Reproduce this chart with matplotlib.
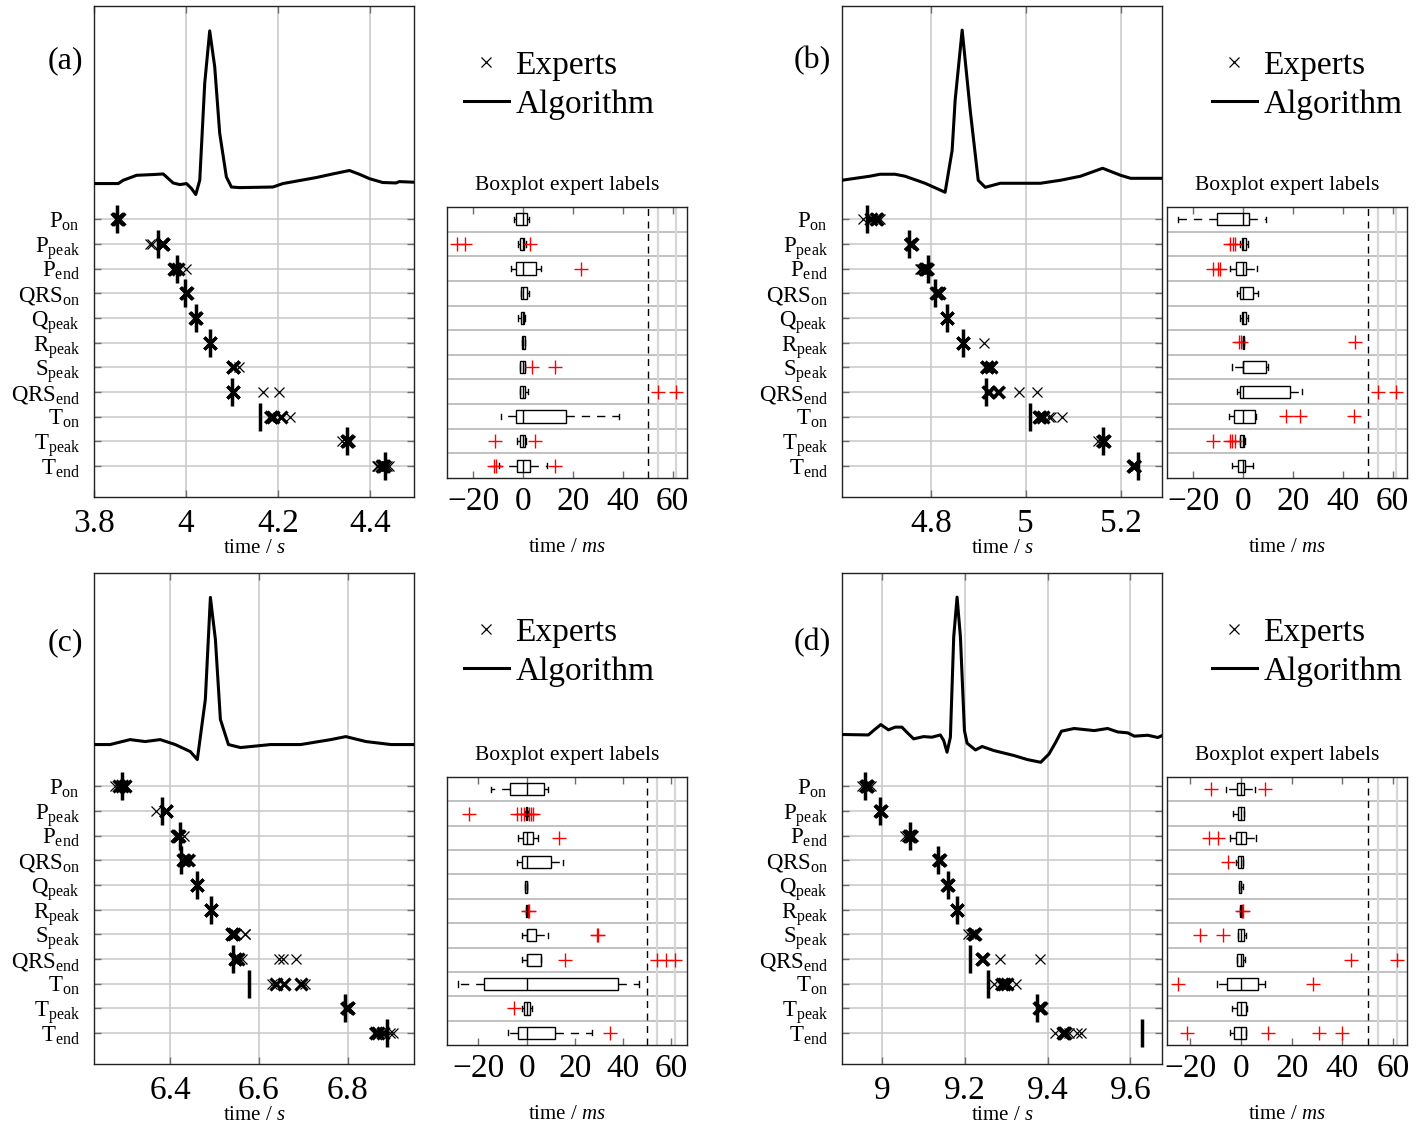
import numpy as np
import matplotlib
matplotlib.use("Agg")
import matplotlib.pyplot as plt
from matplotlib.lines import Line2D

plt.rcParams['font.family'] = ['Liberation Serif', 'DejaVu Serif']
plt.rcParams['mathtext.fontset'] = 'custom'
plt.rcParams['mathtext.rm'] = 'Liberation Serif'
plt.rcParams['mathtext.it'] = 'Liberation Serif:italic'

# ---------------------------------------------------------------- data
wave_labels = [r'P$_{\mathrm{on}}$', r'P$_{\mathrm{peak}}$', r'P$_{\mathrm{end}}$',
               r'QRS$_{\mathrm{on}}$', r'Q$_{\mathrm{peak}}$', r'R$_{\mathrm{peak}}$',
               r'S$_{\mathrm{peak}}$', r'QRS$_{\mathrm{end}}$', r'T$_{\mathrm{on}}$',
               r'T$_{\mathrm{peak}}$', r'T$_{\mathrm{end}}$']
panel_names = ['(a)', '(b)', '(c)', '(d)']
nan = np.nan

# ECG traces (time in s, amplitude normalised to the R peak)
ecg_time_a = [3.800, 3.8527, 3.8635, 3.8925, 3.9285, 3.9502, 3.9575, 3.9718, 3.9864, 4.0009,
              4.0117, 4.0210, 4.0297, 4.0405, 4.0513, 4.0622, 4.0730, 4.0875, 4.0984, 4.1163,
              4.1885, 4.2102, 4.2826, 4.3185, 4.3547, 4.3764, 4.3980, 4.4269, 4.4559, 4.4631, 4.4950]
ecg_amp_a = [0.0, 0.0, 0.022, 0.055, 0.060, 0.064, 0.044, 0.004, -0.007, 0.0,
             -0.033, -0.073, 0.022, 0.669, 1.017, 0.777, 0.335, 0.044, -0.023, -0.027,
             -0.023, 0.0, 0.040, 0.064, 0.087, 0.062, 0.033, 0.007, 0.004, 0.013, 0.009]

ecg_time_b = [4.6126, 4.6718, 4.6929, 4.7246, 4.7457, 4.7879, 4.8302, 4.8450, 4.8513, 4.8661,
              4.8830, 4.8999, 4.9147, 4.9464, 5.0309, 5.0732, 5.1154, 5.1619, 5.1999, 5.2210, 5.2870]
ecg_amp_b = [0.022, 0.049, 0.062, 0.062, 0.049, 0.002, -0.058, 0.222, 0.555, 1.022,
             0.489, 0.022, -0.025, 0.002, 0.002, 0.022, 0.049, 0.102, 0.055, 0.035, 0.035]

ecg_time_c = [6.2279, 6.2642, 6.3094, 6.3434, 6.3774, 6.4113, 6.4453, 6.4611, 6.4792, 6.4906,
              6.5019, 6.5132, 6.5313, 6.5585, 6.6264, 6.6943, 6.7622, 6.7962, 6.8415, 6.8981, 6.9502]
ecg_amp_c = [0.040, 0.040, 0.073, 0.060, 0.073, 0.040, -0.007, -0.060, 0.340, 1.020,
             0.740, 0.207, 0.040, 0.020, 0.040, 0.040, 0.073, 0.093, 0.060, 0.040, 0.040]

ecg_time_d = [8.9040, 8.9677, 8.9798, 8.9976, 9.0161, 9.0323, 9.0484, 9.0605, 9.0767, 9.1009,
              9.1211, 9.1412, 9.1493, 9.1574, 9.1655, 9.1735, 9.1816, 9.1897, 9.1994, 9.2058,
              9.2179, 9.2260, 9.2421, 9.2704, 9.3188, 9.3511, 9.3834, 9.4036, 9.4197, 9.4334,
              9.4641, 9.5125, 9.5448, 9.5690, 9.5932, 9.6094, 9.6416, 9.6659, 9.6764]
ecg_amp_d = [0.107, 0.104, 0.133, 0.173, 0.138, 0.156, 0.156, 0.122, 0.078, 0.093,
             0.089, 0.104, 0.067, -0.011, 0.089, 0.756, 1.022, 0.756, 0.133, 0.049,
             0.022, 0.004, 0.027, 0.0, -0.033, -0.060, -0.078, -0.022, 0.056, 0.129,
             0.147, 0.133, 0.147, 0.124, 0.118, 0.096, 0.102, 0.087, 0.100]

# median expert label (s) and algorithm output (s) per wave
median_a = [3.852, 3.949, 3.976, 4.000, 4.021, 4.0514, 4.102, 4.102, 4.188, 4.350, 4.427]
algo_a = [3.849, 3.938, 3.981, 3.997, 4.021, 4.0514, nan, 4.0997, 4.160, 4.350, 4.432]
median_b = [4.684, 4.759, 4.790, 4.8127, 4.8338, 4.8676, 4.918, 4.922, 5.031, 5.1648, 5.228]
algo_b = [4.6662, 4.7549, 4.7937, 4.8092, 4.8338, 4.8676, nan, 4.9162, 5.0085, 5.1627, 5.2373]
median_c = [6.2906, 6.391, 6.4166, 6.430, 6.4604, 6.4921, 6.5396, 6.546, 6.657, 6.800, 6.868]
algo_c = [6.2921, 6.3811, 6.4211, 6.4242, 6.4604, 6.4921, nan, 6.5419, 6.5774, 6.794, 6.8883]
median_d = [8.9637, 8.9976, 9.0686, 9.1388, 9.159, 9.1816, 9.2236, 9.2421, 9.2946, 9.3818, 9.440]
algo_d = [8.9596, 8.996, 9.067, 9.1356, 9.159, 9.1816, nan, 9.2123, 9.2558, 9.3753, 9.6279]

# expert label spread relative to the median (ms)
q1_a = [-2.8, -1.3, -2.8, -0.7, -0.9, -0.4, -1.1, -1.1, -2.8, -1.3, -2.3]
q3_a = [1.6, 0.4, 5.4, 1.6, 0.3, 0.8, 0.8, 0.9, 17.4, 0.7, 2.9]
lo_a = [-3.7, -2.2, -4.7, -0.9, -1.9, -0.4, -1.1, -1.1, -8.7, -2.4, -9.6]
hi_a = [2.4, 1.0, 7.1, 2.4, 0.7, 0.8, 0.8, 2.0, 38.6, 1.0, 9.8]
out_a = [[], [-26.5, -23.4, 2.7], [23.4], [], [], [], [3.7, 12.7], [65, 100], [],
         [-11.4, 5.0], [-11.6, -10.7, 12.7]]

q1_b = [-10.4, -0.4, -2.8, -1.1, -0.4, -0.2, 0.0, -1.3, -3.6, -1.3, -2.0]
q3_b = [2.4, 1.1, 1.3, 4.0, 1.1, 0.4, 9.1, 19.0, 4.7, 0.2, 0.9]
lo_b = [-26.1, -1.3, -5.1, -2.4, -1.3, -0.2, -4.3, -2.3, -5.6, -1.3, -4.3]
hi_b = [9.1, 2.0, 5.8, 6.0, 2.0, 0.4, 10.0, 23.8, 5.4, 0.7, 4.0]
out_b = [[], [-5.1, -4.0, -3.3], [-12.0, -10.0, -9.4], [], [], [-1.5, -0.8, 44.8], [],
         [63, 102], [17.1, 22.8, 44.6], [-12.0, -5.4, -4.3, -3.3], []]

q1_c = [-6.9, -0.3, -1.4, -2.1, -0.6, -0.2, 0.0, 0.0, -17.6, -1.1, -3.5]
q3_c = [7.2, 0.3, 2.8, 10.1, 0.2, 0.2, 3.9, 5.8, 37.7, 1.4, 11.8]
lo_c = [-14.8, -0.5, -3.5, -3.9, -0.6, -0.2, -2.1, -2.1, -28.4, -2.1, -7.6]
hi_c = [8.7, 0.5, 4.6, 15.2, 0.2, 0.2, 9.0, 5.8, 46.8, 2.1, 27.0]
out_c = [[], [-24.0, -3.9, -2.5, -1.2, 0.8, 1.9, 2.5], [13.6], [], [], [0.7, 1.2],
         [29.1, 29.8], [15.9, 100, 108, 138], [], [-5.3], [34.6]]

q1_d = [-1.7, -1.1, -2.0, -1.3, -0.9, -0.2, -1.1, -1.4, -5.3, -1.7, -2.8]
q3_d = [1.2, 1.2, 2.0, 0.9, 0.2, 0.2, 1.2, 0.9, 6.6, 2.0, 2.0]
lo_d = [-5.7, -3.3, -4.1, -2.0, -0.9, -0.2, -1.1, -1.4, -9.6, -3.7, -4.3]
hi_d = [5.5, 1.2, 5.9, 0.9, 0.7, 0.2, 2.0, 1.6, 9.5, 2.5, 2.0]
out_d = [[-11.6, 9.5], [], [-12.5, -8.9], [-5.0], [], [0.5, 1.0], [-16.2, -7.2],
         [43.4, 139], [-24.7, 28.3], [], [-21.2, 10.8, 30.9, 39.7]]

# time axis ticks per panel
xticks_a = [3.8, 4.0, 4.2, 4.4]
xticklabels_a = ['3.8', '4', '4.2', '4.4']
xticks_b = [4.8, 5.0, 5.2]
xticklabels_b = ['4.8', '5', '5.2']
xticks_c = [6.4, 6.6, 6.8]
xticklabels_c = ['6.4', '6.6', '6.8']
xticks_d = [9.0, 9.2, 9.4, 9.6]
xticklabels_d = ['9', '9.2', '9.4', '9.6']
box_ticks = [-20, 0, 20, 40, 60]
box_ticklabels = ['\u221220', '0', '20', '40', '60']

# ---------------------------------------------------------------- layout
W, H = 1416, 1131
fig = plt.figure(figsize=(W / 100, H / 100), dpi=100)


def rect(x0, y0, x1, y1):
    return [x0 / W, 1 - y1 / H, (x1 - x0) / W, (y1 - y0) / H]


panels = [
    dict(name=panel_names[0], et=ecg_time_a, ea=ecg_amp_a, med=median_a, alg=algo_a,
         q1=q1_a, q3=q3_a, lo=lo_a, hi=hi_a, out=out_a, xt=xticks_a, xl=xticklabels_a,
         xlim=(3.800, 4.495), blim=(-30.5, 65.8),
         left=rect(94, 6, 414, 497), box=rect(447, 207, 687, 478), lab=(65, 61)),
    dict(name=panel_names[1], et=ecg_time_b, ea=ecg_amp_b, med=median_b, alg=algo_b,
         q1=q1_b, q3=q3_b, lo=lo_b, hi=hi_b, out=out_b, xt=xticks_b, xl=xticklabels_b,
         xlim=(4.613, 5.287), blim=(-30.5, 65.8),
         left=rect(842, 6, 1162, 497), box=rect(1167, 207, 1407, 478), lab=(812, 61)),
    dict(name=panel_names[2], et=ecg_time_c, ea=ecg_amp_c, med=median_c, alg=algo_c,
         q1=q1_c, q3=q3_c, lo=lo_c, hi=hi_c, out=out_c, xt=xticks_c, xl=xticklabels_c,
         xlim=(6.228, 6.950), blim=(-33.0, 66.5),
         left=rect(94, 573, 414, 1064), box=rect(447, 777, 687, 1045), lab=(65, 643)),
    dict(name=panel_names[3], et=ecg_time_d, ea=ecg_amp_d, med=median_d, alg=algo_d,
         q1=q1_d, q3=q3_d, lo=lo_d, hi=hi_d, out=out_d, xt=xticks_d, xl=xticklabels_d,
         xlim=(8.904, 9.676), blim=(-29.1, 65.4),
         left=rect(842, 573, 1162, 1064), box=rect(1167, 777, 1407, 1045), lab=(812, 643)),
]

ECG_OFFSET = -1.445   # ECG baseline in row units (rows count downwards)
ECG_GAIN = 6.085      # row units per normalised amplitude
OFFSCALE = 52.0       # outliers beyond this are stacked at the right edge
rows = np.arange(len(wave_labels))
grid_col = '#c8c8c8'
tick_col = '#6e6e6e'


def offscale_positions(n):
    if n == 1:
        return [61.5]
    return list(np.linspace(54.0, 61.5, n))


for p in panels:
    # ---------------- time axis with ECG and annotation rows
    ax = fig.add_axes(p['left'])
    ax.plot(p['et'], ECG_OFFSET - np.asarray(p['ea']) * ECG_GAIN, color='k', lw=2.2,
            solid_joinstyle='round', zorder=4)

    med = np.asarray(p['med'])
    for i in rows:
        spread = np.array([p['lo'][i], p['hi'][i]] + list(p['out'][i])) / 1000.0
        ax.plot(med[i] + spread, np.full(spread.size, i), ls='none', marker='x',
                color='k', ms=7, mew=0.9, zorder=5)
        core = np.array([p['q1'][i], 0.0, p['q3'][i]]) / 1000.0
        ax.plot(med[i] + core, np.full(core.size, i), ls='none', marker='x',
                color='k', ms=8.5, mew=2.3, zorder=5)
    ax.plot(p['alg'], rows, ls='none', marker='|', color='k', ms=19.5, mew=2.5, zorder=6)

    ax.set_xlim(*p['xlim'])
    ax.set_ylim(10 + 31 / 24.65, -213 / 24.65)
    ax.set_yticks(rows)
    ax.set_yticklabels(wave_labels, fontsize=16.5)
    ax.set_xticks(p['xt'])
    ax.set_xticklabels(p['xl'], fontsize=24)
    ax.grid(True, color=grid_col, lw=1.1)
    ax.set_axisbelow(True)
    ax.tick_params(direction='in', top=True, right=True, length=5, width=1,
                   color=tick_col)
    ax.tick_params(axis='x', pad=8)
    ax.tick_params(axis='y', pad=10)
    ax.set_xlabel('time / $s$', fontsize=15, labelpad=0)
    for s in ax.spines.values():
        s.set_linewidth(1.0)
        s.set_color('#222222')

    handles = [Line2D([], [], ls='none', marker='x', color='k', ms=7, mew=0.9),
               Line2D([], [], color='k', lw=2.2)]
    ax.legend(handles, ['Experts', 'Algorithm'], loc='upper left',
              bbox_to_anchor=(1.155, 0.91), frameon=False, fontsize=24,
              handlelength=1.35, handletextpad=0.2, labelspacing=0.25,
              borderpad=0, borderaxespad=0)

    fig.text(p['lab'][0] / W, 1 - p['lab'][1] / H, p['name'], fontsize=23,
             ha='center', va='center')

    # ---------------- boxplot of expert spread
    bx = fig.add_axes(p['box'])
    stats = []
    for i in rows:
        fl = [v for v in p['out'][i] if v <= OFFSCALE]
        big = [v for v in p['out'][i] if v > OFFSCALE]
        if big:
            fl = fl + offscale_positions(len(big))
        stats.append(dict(med=0.0, q1=p['q1'][i], q3=p['q3'][i],
                          whislo=p['lo'][i], whishi=p['hi'][i], fliers=fl))
    kw = dict(positions=rows, widths=0.5, capwidths=0.22, patch_artist=True,
              boxprops=dict(facecolor='white', edgecolor='k', lw=1.0),
              medianprops=dict(color='k', lw=1.0),
              whiskerprops=dict(color='k', lw=1.0, linestyle=(0, (6, 5))),
              capprops=dict(color='k', lw=1.0),
              flierprops=dict(marker='+', markeredgecolor='red', markersize=10,
                              markeredgewidth=1.0, ls='none'))
    try:
        bx.bxp(stats, orientation='horizontal', **kw)
    except TypeError:
        bx.bxp(stats, vert=False, **kw)

    for yb in rows[:-1] + 0.5:
        bx.axhline(yb, color='#bcbcbc', lw=1.3, zorder=0)
    for xg in (54.0, 61.5):
        bx.axvline(xg, color='#d6d6d6', lw=1.6, zorder=0)
    bx.axvline(50, color='k', lw=1.0, ls=(0, (5, 4)), zorder=1)

    bx.set_xlim(*p['blim'])
    bx.set_ylim(10.5, -0.5)
    bx.set_yticks([])
    bx.set_xticks(box_ticks)
    bx.set_xticklabels(box_ticklabels, fontsize=24)
    bx.tick_params(axis='x', direction='in', top=True, length=5, width=1,
                   color=tick_col, pad=6)
    bx.set_xlabel('time / $ms$', fontsize=15, labelpad=15)
    bx.set_title('Boxplot expert labels', fontsize=15.5, pad=12)
    for s in bx.spines.values():
        s.set_linewidth(1.0)
        s.set_color('#222222')

fig.savefig('out.png', dpi=100)
